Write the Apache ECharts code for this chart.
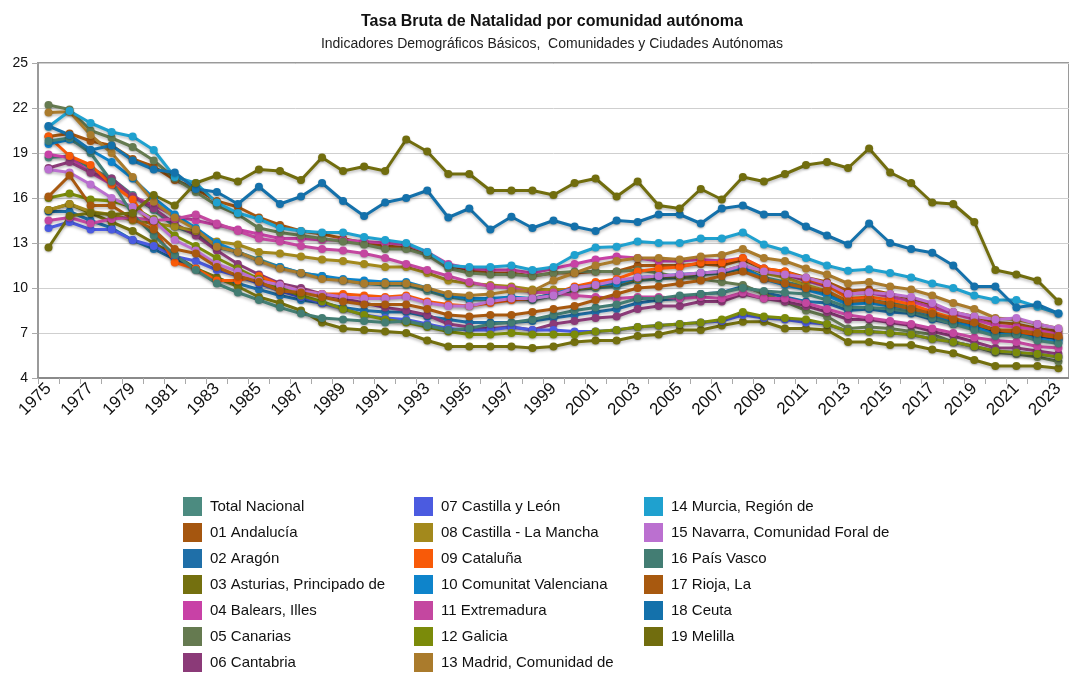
<!DOCTYPE html>
<html>
<head>
<meta charset="utf-8">
<script src="https://cdn.jsdelivr.net/npm/echarts@6/dist/echarts.min.js"></script>
<style>
  html, body { margin: 0; padding: 0; background: #fff; }
  #main { width: 1069px; height: 673px; }
</style>
</head>
<body>
<div id="main"></div>
<script>
// años 1975..2023
var years = [];
for (var y = 1975; y <= 2023; y++) years.push(String(y));

var yTicks = [4, 7, 10, 13, 16, 19, 22, 25];

var totalNacional = [18.7,18.8,18.0,17.3,16.2,15.2,14.1,13.6,12.7,12.4,11.9,11.4,11.0,10.8,10.5,10.3,10.2,10.2,9.8,9.4,9.2,9.2,9.3,9.2,9.5,9.9,10.0,10.1,10.5,10.6,10.7,10.9,11.0,11.3,10.7,10.4,10.1,9.7,9.1,9.2,9.0,8.8,8.4,7.9,7.6,7.2,7.1,6.9,6.6];
var andalucia = [20.1,20.3,19.8,19.5,18.6,18.1,17.2,16.6,15.8,15.4,14.7,14.2,13.8,13.6,13.3,13.0,12.8,12.7,12.2,11.5,11.2,11.0,11.0,10.8,11.0,11.0,11.1,11.1,11.5,11.5,11.5,11.6,11.5,11.9,11.3,11.1,10.7,10.4,9.8,9.9,9.6,9.3,8.9,8.4,8.1,7.7,7.6,7.3,7.1];
var aragon = [15.1,15.1,14.5,14.0,13.2,12.6,11.9,11.3,10.6,10.3,9.9,9.5,9.2,9.0,8.7,8.5,8.4,8.4,8.1,7.9,7.7,7.7,7.7,7.8,8.0,8.2,8.4,8.6,9.0,9.2,9.3,9.6,9.7,10.1,9.7,9.4,9.1,9.0,8.5,8.6,8.4,8.3,7.9,7.6,7.4,7.1,7.0,6.8,6.6];
var asturias = [15.2,15.6,15.0,14.4,13.8,13.0,12.2,11.3,10.7,10.1,9.4,9.0,8.5,7.7,7.3,7.2,7.1,7.0,6.5,6.1,6.1,6.1,6.1,6.0,6.1,6.4,6.5,6.5,6.8,6.9,7.2,7.2,7.5,7.75,7.75,7.3,7.3,7.2,6.4,6.4,6.2,6.2,5.9,5.65,5.2,4.8,4.8,4.8,4.65];
var balears = [18.9,18.7,17.7,16.9,16.1,15.5,14.8,14.5,14.2,13.9,13.6,13.3,13.3,13.2,13.2,13.1,13.0,12.9,12.4,11.6,11.3,11.2,11.2,11.0,11.3,11.6,11.9,12.1,12.0,11.8,11.8,11.9,11.8,12.0,11.3,10.9,10.5,10.1,9.6,9.7,9.4,9.1,8.7,8.3,7.9,7.5,7.4,7.2,6.9];
var canarias = [22.2,21.9,20.5,20.0,19.4,18.5,17.3,16.4,15.5,14.9,14.0,13.7,13.5,13.3,13.1,12.9,12.6,12.6,12.2,11.3,11.0,10.9,10.9,10.8,11.0,11.1,11.1,11.1,11.2,11.0,10.7,10.6,10.4,10.2,9.6,9.1,8.5,8.1,7.3,7.4,7.3,7.1,6.9,6.4,6.1,5.7,5.6,5.4,5.1];
var cantabria = [18.0,18.4,17.7,17.3,16.1,15.3,14.3,13.5,12.5,11.6,10.9,10.3,10.0,9.6,9.3,9.0,8.7,8.5,8.2,7.6,7.4,7.3,7.4,7.2,7.6,7.8,8.0,8.1,8.6,8.8,8.8,9.1,9.1,9.6,9.3,9.1,8.8,8.4,7.9,7.9,7.7,7.5,7.1,6.8,6.4,6.0,6.0,5.8,5.6];
var castillaLeon = [14.0,14.4,13.9,13.9,13.2,12.8,12.1,11.8,11.2,10.8,10.3,9.8,9.4,9.0,8.6,8.2,8.0,7.9,7.6,7.3,7.2,7.2,7.4,7.2,7.2,7.1,7.1,7.2,7.4,7.5,7.6,7.7,7.8,8.2,8.0,7.9,7.7,7.6,7.1,7.1,7.0,6.9,6.6,6.4,6.1,5.8,5.7,5.6,5.4];
var castillaMancha = [15.2,15.6,15.1,14.9,14.5,14.3,14.1,13.8,13.1,12.9,12.4,12.3,12.1,11.9,11.8,11.6,11.4,11.4,11.0,10.5,10.3,10.2,10.1,9.9,9.9,9.9,10.1,10.3,10.6,10.8,10.8,11.0,11.1,11.5,11.0,10.7,10.2,9.8,9.1,9.2,8.9,8.7,8.4,7.9,7.6,7.2,7.0,6.9,6.7];
var cataluna = [20.1,18.8,18.2,16.9,15.9,14.0,11.7,11.3,10.5,10.5,10.8,10.2,9.8,9.6,9.6,9.5,9.4,9.5,9.1,8.9,8.8,9.0,9.2,9.3,9.6,10.1,10.4,10.6,11.1,11.3,11.4,11.7,11.7,12.0,11.3,11.1,10.6,10.2,9.3,9.4,9.2,8.9,8.4,8.0,7.6,7.2,7.1,6.9,6.7];
var valenciana = [19.6,19.9,19.2,18.4,17.3,16.0,14.9,14.0,13.0,12.4,11.8,11.4,11.0,10.8,10.6,10.5,10.4,10.4,10.0,9.5,9.3,9.3,9.4,9.3,9.6,10.0,10.2,10.3,10.7,10.8,10.9,11.0,11.1,11.4,10.6,10.2,9.9,9.5,8.9,9.0,8.8,8.6,8.2,7.7,7.4,6.9,6.9,6.6,6.4];
var extremadura = [14.5,14.7,14.3,14.6,14.7,14.5,14.6,14.9,14.3,13.8,13.3,13.1,12.8,12.6,12.5,12.3,12.0,11.6,11.2,10.8,10.4,10.1,10.0,9.7,9.7,9.5,9.4,9.3,9.4,9.4,9.3,9.4,9.3,9.7,9.3,9.3,9.0,8.6,8.2,8.0,7.8,7.6,7.3,7.0,6.7,6.5,6.4,6.1,6.0];
var galicia = [16.0,16.3,15.9,15.8,15.4,14.6,13.5,12.8,12.0,11.3,10.6,10.0,9.5,9.1,8.6,8.2,7.9,7.7,7.4,7.1,6.9,6.9,7.0,6.9,6.9,6.9,7.1,7.2,7.4,7.5,7.6,7.7,7.9,8.4,8.1,8.0,7.9,7.6,7.1,7.1,7.0,6.9,6.6,6.4,6.1,5.8,5.7,5.6,5.4];
var madrid = [21.7,21.75,20.2,19.0,17.4,15.75,14.7,13.9,12.75,12.4,11.8,11.3,11.0,10.6,10.5,10.3,10.3,10.3,10.0,9.6,9.5,9.6,9.8,9.8,10.5,11.0,11.5,11.8,12.0,12.0,11.9,12.1,12.2,12.6,12.0,11.8,11.3,10.9,10.3,10.4,10.1,9.9,9.5,9.0,8.6,8.0,7.9,7.6,7.3];
var murcia = [20.75,21.8,21.0,20.4,20.1,19.2,17.4,17.0,15.7,15.0,14.6,14.0,13.8,13.7,13.7,13.4,13.2,13.0,12.4,11.5,11.4,11.4,11.5,11.2,11.4,12.2,12.7,12.75,13.1,13.0,13.0,13.3,13.3,13.7,12.9,12.5,12.0,11.5,11.15,11.25,11.0,10.7,10.3,10.0,9.5,9.2,9.2,8.75,8.3];
var navarra = [17.9,17.7,16.9,16.0,15.4,14.5,13.2,12.5,11.6,11.1,10.5,10.2,9.8,9.6,9.4,9.3,9.3,9.4,9.0,8.8,8.8,9.1,9.3,9.3,9.5,10.0,10.2,10.5,10.7,10.8,10.9,11.0,11.1,11.5,11.1,10.9,10.7,10.3,9.6,9.7,9.6,9.4,9.0,8.4,8.1,7.9,8.0,7.6,7.3];
var paisVasco = [19.8,20.0,19.0,17.1,14.9,13.5,12.2,11.2,10.3,9.7,9.2,8.7,8.3,8.0,7.9,7.8,7.7,7.8,7.5,7.2,7.3,7.6,7.7,7.9,8.2,8.5,8.7,8.9,9.3,9.3,9.5,9.6,9.7,10.0,9.8,9.7,9.6,9.2,8.7,8.7,8.6,8.4,8.0,7.6,7.2,6.8,6.9,6.5,6.3];
var rioja = [16.1,17.5,15.5,15.5,14.6,13.9,12.6,12.3,11.4,10.8,10.4,9.8,9.7,9.4,9.1,8.9,8.9,8.9,8.6,8.2,8.1,8.2,8.2,8.4,8.6,8.8,9.2,9.6,10.0,10.1,10.3,10.5,10.8,11.1,10.6,10.3,10.0,9.8,9.1,9.2,8.9,8.6,8.3,7.9,7.7,7.2,7.2,7.0,6.8];
var ceuta = [20.8,20.2,19.2,19.5,18.5,17.9,17.7,16.6,16.4,15.6,16.75,15.6,16.1,17.0,15.8,14.8,15.7,16.0,16.5,14.7,15.3,13.9,14.75,14.0,14.5,14.1,13.8,14.5,14.4,14.9,14.9,14.3,15.3,15.5,14.9,14.9,14.1,13.5,12.9,14.3,13.0,12.6,12.35,11.5,10.1,10.1,8.7,8.9,8.3];
var melilla = [12.7,14.8,15.0,14.9,15.0,16.2,15.5,17.0,17.5,17.1,17.9,17.8,17.2,18.7,17.8,18.1,17.8,19.9,19.1,17.6,17.6,16.5,16.5,16.5,16.2,17.0,17.3,16.1,17.1,15.5,15.3,16.6,15.9,17.4,17.1,17.6,18.2,18.4,18.0,19.3,17.7,17.0,15.7,15.6,14.4,11.2,10.9,10.5,9.1];

var names = ['Total Nacional','01 Andalucía','02 Aragón','03 Asturias, Principado de','04 Balears, Illes','05 Canarias','06 Cantabria',
             '07 Castilla y León','08 Castilla - La Mancha','09 Cataluña','10 Comunitat Valenciana','11 Extremadura','12 Galicia','13 Madrid, Comunidad de',
             '14 Murcia, Región de','15 Navarra, Comunidad Foral de','16 País Vasco','17 Rioja, La','18 Ceuta','19 Melilla'];
var values = [totalNacional, andalucia, aragon, asturias, balears, canarias, cantabria,
              castillaLeon, castillaMancha, cataluna, valenciana, extremadura, galicia, madrid,
              murcia, navarra, paisVasco, rioja, ceuta, melilla];
var colors = ['#4c8b80','#a5560f','#1f6fa8','#74700f','#c841a6','#657a50','#8b3a78',
              '#4b5be0','#a3891c','#f85a08','#0e84cb','#c447a0','#7b8b0a','#aa7b2c',
              '#1fa1cf','#bb70d0','#437d73','#a8590f','#1471ab','#716d0e'];

var fontFam = '"Liberation Sans", Arial, sans-serif';

var series = names.map(function (n, i) {
    return {
        name: n,
        type: 'line',
        data: values[i],
        symbol: 'circle',
        symbolSize: 8,
        color: colors[i],
        lineStyle: { width: 3, shadowBlur: 3, shadowColor: 'rgba(0,0,0,0.25)', shadowOffsetY: 2 },
        itemStyle: { shadowBlur: 2, shadowColor: 'rgba(0,0,0,0.25)', shadowOffsetY: 1 },
        emphasis: { disabled: true },
        animation: false
    };
});

// una columna de leyenda
function legendCol(left, list) {
    return {
        orient: 'vertical',
        left: left,
        top: 497,
        height: 190,
        padding: 0,
        icon: 'rect',
        itemWidth: 19,
        itemHeight: 19,
        itemGap: 7,
        data: list,
        textStyle: { fontSize: 15, color: '#111', fontFamily: fontFam, padding: [0, 0, 0, 3] },
        selectedMode: false
    };
}

var chart = echarts.init(document.getElementById('main'));
chart.setOption({
    backgroundColor: '#fff',
    color: colors,
    title: {
        text: 'Tasa Bruta de Natalidad por comunidad autónoma',
        subtext: 'Indicadores Demográficos Básicos,  Comunidades y Ciudades Autónomas',
        left: 547,
        textAlign: 'center',
        top: 9,
        itemGap: 7,
        textStyle: { fontSize: 16, fontWeight: 'bold', color: '#111', fontFamily: fontFam },
        subtextStyle: { fontSize: 14, color: '#222', fontFamily: fontFam }
    },
    legend: [
        legendCol(183, names.slice(0, 7)),
        legendCol(414, names.slice(7, 14)),
        legendCol(644, names.slice(14))
    ],
    grid: {
        left: 38, top: 63, right: -6, bottom: 295,
        show: true, borderColor: '#9a9a9a', borderWidth: 2
    },
    xAxis: {
        type: 'category',
        data: years,
        boundaryGap: true,
        axisLine: { lineStyle: { color: '#8a8a8a', width: 2 } },
        axisTick: { show: true, interval: 0, length: 6, lineStyle: { color: '#aaa' } },
        axisLabel: { interval: 1, rotate: 45, fontSize: 17, color: '#111', fontFamily: fontFam, margin: 8 }
    },
    yAxis: {
        type: 'value',
        min: yTicks[0],
        max: yTicks[yTicks.length - 1],
        interval: 3,
        axisLine: { show: true, lineStyle: { color: '#9a9a9a', width: 2 } },
        axisTick: { show: true, length: 6, lineStyle: { color: '#aaa' } },
        axisLabel: { fontSize: 14, color: '#111', fontFamily: fontFam, margin: 10 },
        splitLine: { lineStyle: { color: '#cfcfcf', width: 1 } }
    },
    series: series
});
</script>
</body>
</html>
